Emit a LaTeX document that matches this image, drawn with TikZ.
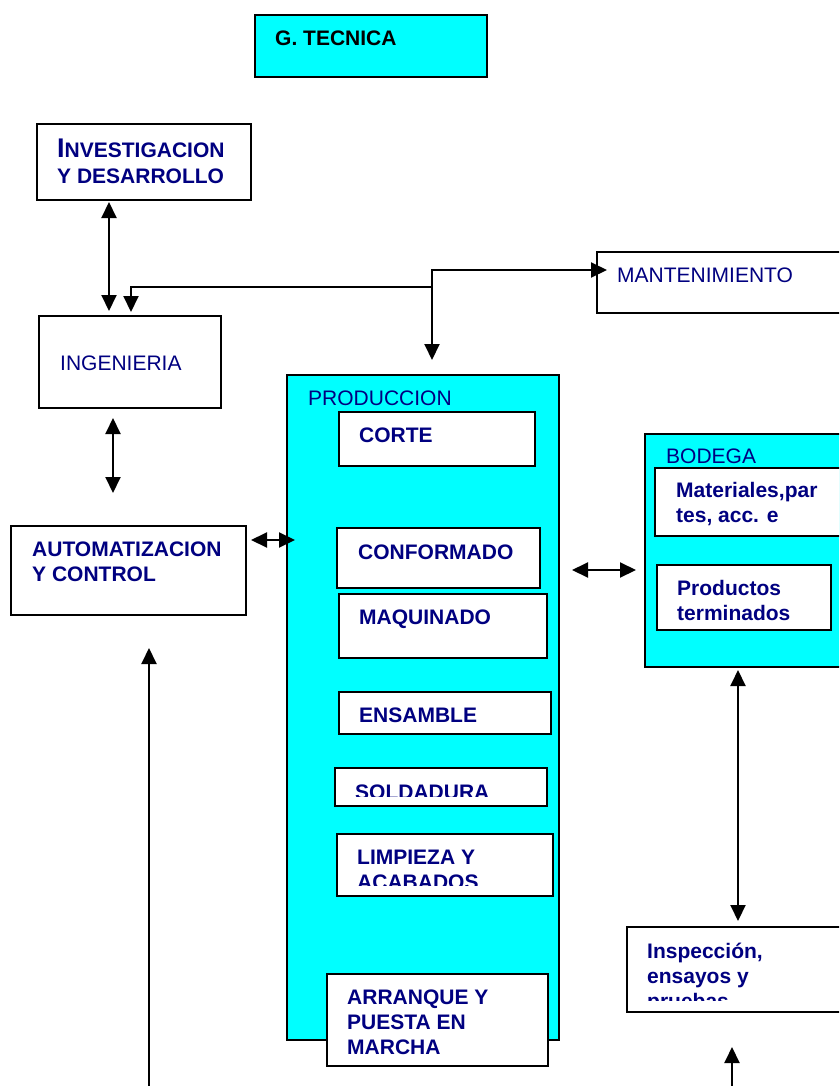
\documentclass[tikz,border=0pt]{standalone}
\usepackage{fontspec}
\setmainfont{Liberation Sans}
\usetikzlibrary{arrows.meta}
\definecolor{navytext}{RGB}{0,0,128}
\definecolor{aqua}{RGB}{0,255,255}
% multi-line label aligned on the baseline of its first line
\newcommand\ml[1]{\begin{tabular}[t]{@{}l@{}}#1\end{tabular}}

\begin{document}
\begin{tikzpicture}[x=1pt,y=-1pt,
  box/.style={draw=black, line width=1.9pt, fill=white, inner sep=0pt, outer sep=0pt, anchor=north west},
  panel/.style={box, fill=aqua},
  lbl/.style={anchor=base west, inner sep=0pt, text=navytext, font={\fontsize{21}{25}\selectfont\bfseries}},
  lblr/.style={lbl, font={\fontsize{21}{25}\selectfont}},
  tip/.tip={Triangle[length=16pt,width=15pt]},
  link/.style={line width=2pt, -tip},
  dlink/.style={line width=2pt, tip-tip}]

\useasboundingbox (0,0) rectangle (839,1086);
\clip (0,0) rectangle (839,1086);

% boxes
\node[panel, minimum width=232, minimum height=62] (gt) at (255,15) {};
\node[box, minimum width=214, minimum height=76] (iyd) at (37,124) {};
\node[box, minimum width=182, minimum height=92] (ing) at (39,316) {};
\node[box, minimum width=260, minimum height=61] (mant) at (597,252) {};
\node[box, minimum width=235, minimum height=89] (aut) at (11,526) {};
\node[panel, minimum width=272, minimum height=665] (prod) at (287,375) {};
\node[box, minimum width=196, minimum height=54] (corte) at (339,412) {};
\node[box, minimum width=203, minimum height=60] (conf) at (337,528) {};
\node[box, minimum width=208, minimum height=64] (maq) at (339,594) {};
\node[box, minimum width=212, minimum height=42] (ens) at (339,692) {};
\node[box, minimum width=212, minimum height=38] (sold) at (335,768) {};
\node[box, minimum width=216, minimum height=62] (limp) at (337,834) {};
\node[box, minimum width=221, minimum height=92] (arr) at (327,974) {};
\node[panel, minimum width=220, minimum height=233] (bod) at (645,434) {};
\node[box, minimum width=210, minimum height=68] (mat) at (655,468) {};
\node[box, minimum width=174, minimum height=65] (prodt) at (657,565) {};
\node[box, minimum width=230, minimum height=85] (insp) at (627,927) {};

% labels
\node[lbl, text=black] (tgt) at (275,46) {G. TECNICA};
\node[lbl] (tiyd) at (57,158) {\ml{{\fontsize{27}{25}\selectfont I}NVESTIGACION\\Y DESARROLLO}};
\node[lblr] (ting) at (60,370) {INGENIERIA};
\node[lblr] (tmant) at (617,282) {MANTENIMIENTO};
\node[lbl] (taut) at (32,556) {\ml{AUTOMATIZACION\\Y CONTROL}};
\node[lblr] (tprod) at (308,405) {PRODUCCION};
\node[lbl] (tcorte) at (359,442) {CORTE};
\node[lbl] (tconf) at (358,559) {CONFORMADO};
\node[lbl] (tmaq) at (359,624) {MAQUINADO};
\node[lbl] (tens) at (359,722) {ENSAMBLE};
\begin{scope}
  \clip (sold.north west) rectangle ([yshift=10pt]sold.south east);
  \node[lbl] (tsold) at (355,799) {SOLDADURA};
\end{scope}
\begin{scope}
  \clip (limp.north west) rectangle ([yshift=11pt]limp.south east);
  \node[lbl] (tlimp) at (357,864) {\ml{LIMPIEZA Y\\ACABADOS}};
\end{scope}
\node[lbl] (tarr) at (347,1004) {\ml{ARRANQUE Y\\PUESTA EN\\MARCHA}};
\node[lblr] (tbod) at (666,463) {BODEGA};
\node[lbl] (tmat) at (676,497) {\ml{Materiales,par\\tes, acc. e}};
\node[lbl] (tprodt) at (677,595) {\ml{Productos\\terminados}};
\begin{scope}
  \clip (insp.north west) rectangle ([yshift=12pt]insp.south east);
  \node[lbl] (tinsp) at (647,958) {\ml{Inspección,\\ensayos y\\pruebas}};
\end{scope}

% connectors
\coordinate (xa) at (109,0);
\coordinate (xb) at (131,0);
\coordinate (xc) at (113,0);
\coordinate (j) at (432,287);
\coordinate (ym) at (0,270);
\coordinate (ya) at (0,540);
\coordinate (yb) at (0,570);
\coordinate (xd) at (738,0);
\coordinate (b1) at (149,1090);
\coordinate (b2) at (732,1090);

\draw[dlink, shorten <=2pt, shorten >=5pt] (iyd.south -| xa) -- (ing.north -| xa);
\draw[link, shorten >=4pt] (j) -- (j -| xb) -- (ing.north -| xb);
\draw[link, shorten >=-10pt] (j) -- (j |- ym) -- (mant.west |- ym);
\draw[link, shorten >=15pt] (j) -- (prod.north -| j);
\draw[dlink, shorten <=10pt, shorten >=33pt] (ing.south -| xc) -- (aut.north -| xc);
\draw[dlink, shorten <=5pt, shorten >=-8pt] (aut.east |- ya) -- (prod.west |- ya);
\draw[link, shorten >=33pt] (b1) -- (aut.south -| b1);
\draw[dlink, shorten <=13pt, shorten >=9pt] (prod.east |- yb) -- (bod.west |- yb);
\draw[dlink, shorten <=3pt, shorten >=6pt] (bod.south -| xd) -- (insp.north -| xd);
\draw[link, shorten >=35pt] (b2) -- (insp.south -| b2);
\end{tikzpicture}
\end{document}
